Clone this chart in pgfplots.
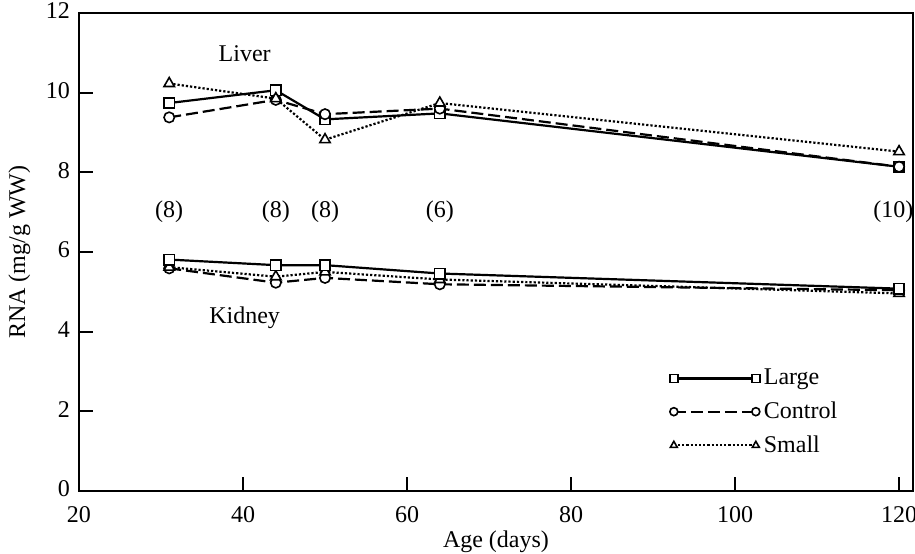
\documentclass[border=0pt]{standalone}
\usepackage{pgfplots}
\pgfplotsset{compat=1.18}
\usepackage{fontspec}
\setmainfont{Liberation Serif}

\begin{document}
\begin{tikzpicture}
\begin{axis}[
  scale only axis,
  width=417pt, height=239pt,
  xmin=20, xmax=121.7,
  ymin=0, ymax=12,
  xtick={20,40,60,80,100,120},
  ytick={0,2,4,6,8,10,12},
  tick pos=left,
  tick align=inside,
  major tick length=7pt,
  axis line style={line width=1pt},
  tick style={line width=1pt, black},
  /pgf/number format/assume math mode=true,
  ticklabel style={font=\fontsize{12}{14}\selectfont},
  xticklabel style={yshift=-4pt},
  yticklabel style={yshift=1pt, xshift=-1pt},
  label style={font=\fontsize{12}{14}\selectfont},
  xlabel={Age (days)},
  ylabel={RNA (mg/g WW)},
  xlabel style={yshift=2.5pt},
  ylabel style={yshift=1pt},
  clip=false,
  every axis plot/.append style={line width=1.1pt, mark options={solid, fill=white, line width=0.8pt}},
  legend image code/.code={\draw[#1, mark size=2pt] plot coordinates {(0pt,0pt) (41pt,0pt)};},
  legend style={at={(axis cs:92.0,3.17)}, anchor=north west, draw=none, fill=none,
    font=\fontsize{12}{14}\selectfont, row sep=3pt, inner sep=0pt,
    nodes={inner sep=2pt}},
  legend cell align=left,
]
\coordinate (o) at (rel axis cs:0,0);

% liver
\addplot[black, solid, mark=square*, mark size=2.6pt]
  coordinates {(31,9.74) (44,10.06) (50,9.33) (64,9.48) (120,8.14)};
\addlegendentry{Large}
\addplot[black, dash pattern=on 6pt off 2.5pt, mark=*, mark size=2.6pt]
  coordinates {(31,9.38) (44,9.82) (50,9.46) (64,9.60) (120,8.14)};
\addlegendentry{Control}
\addplot[black, densely dotted, mark=triangle*, mark size=3pt]
  coordinates {(31,10.23) (44,9.85) (50,8.82) (64,9.74) (120,8.52)};
\addlegendentry{Small}

% kidney
\addplot[black, dash pattern=on 6pt off 2.5pt, mark=*, mark size=2.6pt, forget plot]
  coordinates {(31,5.59) (44,5.23) (50,5.35) (64,5.19) (120,5.04)};
\addplot[black, densely dotted, mark=triangle*, mark size=3pt, forget plot]
  coordinates {(31,5.62) (44,5.38) (50,5.50) (64,5.31) (120,4.96)};
\addplot[black, solid, mark=square*, mark size=2.6pt, forget plot]
  coordinates {(31,5.81) (44,5.67) (50,5.67) (64,5.46) (120,5.08)};

% labels and sample sizes
\node[font=\fontsize{12}{14}\selectfont] at (axis cs:40.2,10.97) {Liver};
\node[font=\fontsize{12}{14}\selectfont] at (axis cs:40.2,4.34) {Kidney};
\node[font=\fontsize{12}{14}\selectfont] at (axis cs:31,7.0) {(8)};
\node[font=\fontsize{12}{14}\selectfont] at (axis cs:44,7.0) {(8)};
\node[font=\fontsize{12}{14}\selectfont] at (axis cs:50,7.0) {(8)};
\node[font=\fontsize{12}{14}\selectfont] at (axis cs:64,7.0) {(6)};
\node[font=\fontsize{12}{14}\selectfont] at (axis cs:119.3,7.0) {(10)};
\end{axis}
\pgfresetboundingbox
\path (o) ++(-39.5pt,-31pt) rectangle ++(457.5pt,276.5pt);
\end{tikzpicture}
\end{document}
